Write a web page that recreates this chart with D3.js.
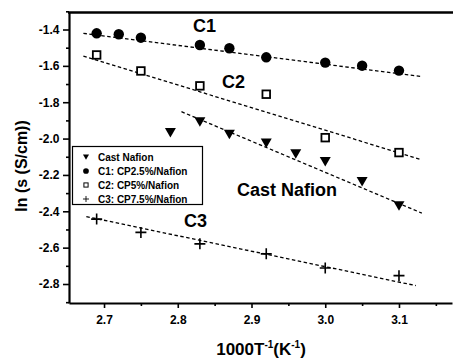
<!DOCTYPE html>
<html><head><meta charset="utf-8">
<script src="https://cdn.jsdelivr.net/npm/d3@7"></script>
<style>body{margin:0;background:#fff}svg{display:block}text{font-family:"Liberation Sans",Arial,sans-serif;font-weight:bold}</style>
</head><body><svg id="c" width="453" height="358"></svg>
<script>
// Data
const castX = [2.79, 2.83, 2.87, 2.92, 2.96, 3.00, 3.05, 3.10];
const castY = [-1.967, -1.907, -1.976, -2.025, -2.084, -2.126, -2.236, -2.370];
const c1X = [2.69, 2.72, 2.75, 2.83, 2.87, 2.92, 3.00, 3.05, 3.10];
const c1Y = [-1.421, -1.426, -1.445, -1.485, -1.503, -1.553, -1.582, -1.599, -1.626];
const c2X = [2.69, 2.75, 2.83, 2.92, 3.00, 3.10];
const c2Y = [-1.540, -1.628, -1.710, -1.756, -1.995, -2.077];
const c3X = [2.69, 2.75, 2.83, 2.92, 3.00, 3.10];
const c3Y = [-2.443, -2.516, -2.579, -2.634, -2.712, -2.754];
// Linear fit endpoints [x0, x1], [y0, y1]
const fitC1 = {x: [2.672, 3.131], y: [-1.421, -1.659]};
const fitC2 = {x: [2.672, 3.131], y: [-1.546, -2.117]};
const fitCast = {x: [2.805, 3.131], y: [-1.852, -2.410]};
const fitC3 = {x: [2.676, 3.123], y: [-2.429, -2.809]};
const xTicks = [2.7, 2.8, 2.9, 3.0, 3.1];
const xMinor = [2.75, 2.85, 2.95, 3.05, 3.15];
const yTicks = [-2.8, -2.6, -2.4, -2.2, -2.0, -1.8, -1.6, -1.4];
const yMinor = [-2.9, -2.7, -2.5, -2.3, -2.1, -1.9, -1.7, -1.5, -1.3];
const legendLabels = ["Cast Nafion", "C1: CP2.5%/Nafion", "C2: CP5%/Nafion", "C3: CP7.5%/Nafion"];

const svg = d3.select("#c");
const x = d3.scaleLinear().domain([2.6525, 3.1719]).range([69, 452]);
const y = d3.scaleLinear().domain([-2.9045, -1.3037]).range([303, 12]);
const fmt = v => d3.format(".1f")(v).replace("−", "-");

// top frame
svg.append("line").attr("x1", 68).attr("x2", 453).attr("y1", 12.5).attr("y2", 12.5).attr("stroke", "#000").attr("stroke-width", 2.5);

// axes
const gx = svg.append("g").attr("transform", "translate(0,303)")
  .call(d3.axisBottom(x).tickValues(xTicks).tickFormat(fmt).tickSize(5).tickSizeOuter(0));
svg.append("g").attr("transform", "translate(0,303)")
  .call(d3.axisBottom(x).tickValues(xMinor).tickFormat("").tickSize(3).tickSizeOuter(0))
  .select(".domain").remove();
const gy = svg.append("g").attr("transform", "translate(69,0)")
  .call(d3.axisLeft(y).tickValues(yTicks).tickFormat(fmt).tickSize(6).tickSizeOuter(0));
svg.append("g").attr("transform", "translate(69,0)")
  .call(d3.axisLeft(y).tickValues(yMinor).tickFormat("").tickSize(3).tickSizeOuter(0))
  .select(".domain").remove();
svg.selectAll(".domain").attr("stroke-width", 2.2).attr("stroke", "#000");
svg.selectAll(".tick line").attr("stroke-width", 1.6);
svg.selectAll(".tick text").attr("font-size", 12).attr("font-weight", "bold").attr("font-family", "Liberation Sans, Arial, sans-serif").attr("fill", "#000");
gx.selectAll(".tick text").attr("dy", "1.05em");
gy.selectAll(".tick text").attr("dx", "-0.05em");

// fit lines
const line = d3.line().x(d => x(d[0])).y(d => y(d[1]));
[fitC1, fitC2, fitCast, fitC3].forEach(f => {
  svg.append("path").attr("d", line(d3.zip(f.x, f.y)))
    .attr("fill", "none").attr("stroke", "#000").attr("stroke-width", 1.3).attr("stroke-dasharray", "3.5,2.5");
});

function drawMarker(g, type, cx, cy, scale) {
  const s = scale || 1;
  if (type === "tri") {
    g.append("path").attr("d", `M${cx-5.5*s},${cy-4.5*s}L${cx+5.5*s},${cy-4.5*s}L${cx},${cy+5*s}Z`).attr("fill", "#000");
  } else if (type === "circ") {
    g.append("circle").attr("cx", cx).attr("cy", cy).attr("r", 5.2*s).attr("fill", "#000");
  } else if (type === "sq") {
    g.append("rect").attr("x", cx-3.8*s).attr("y", cy-3.8*s).attr("width", 7.6*s).attr("height", 7.6*s)
      .attr("fill", "#fff").attr("stroke", "#000").attr("stroke-width", 1.8*s);
  } else if (type === "plus") {
    g.append("path").attr("d", `M${cx-5.5*s},${cy}H${cx+5.5*s}M${cx},${cy-5.5*s}V${cy+5.5*s}`)
      .attr("stroke", "#000").attr("stroke-width", 1.6*s).attr("fill", "none");
  }
}
const mg = svg.append("g");
castX.forEach((v, i) => drawMarker(mg, "tri", x(v), y(castY[i])));
c1X.forEach((v, i) => drawMarker(mg, "circ", x(v), y(c1Y[i])));
c2X.forEach((v, i) => drawMarker(mg, "sq", x(v), y(c2Y[i])));
c3X.forEach((v, i) => drawMarker(mg, "plus", x(v), y(c3Y[i])));

// curve labels
const lab = (t, px, py) => svg.append("text").attr("x", px).attr("y", py).attr("font-size", 18).text(t);
lab("C1", 193, 32);
lab("C2", 222, 88);
lab("Cast Nafion", 237, 196);
lab("C3", 184, 227);

// legend
const lg = svg.append("g");
lg.append("rect").attr("x", 72.5).attr("y", 146.5).attr("width", 130).attr("height", 58)
  .attr("fill", "#fff").attr("stroke", "#000").attr("stroke-width", 1.2);
const types = ["tri", "circ", "sq", "plus"];
legendLabels.forEach((t, i) => {
  const cy = 157 + i * 14;
  drawMarker(lg, types[i], 86, cy, 0.55);
  lg.append("text").attr("x", 98).attr("y", cy + 3.5).attr("font-size", 10).text(t);
});

// axis titles
svg.append("text").attr("transform", "translate(27,166) rotate(-90)").attr("text-anchor", "middle")
  .attr("font-size", 16).text("ln (s (S/cm))");
const xt = svg.append("text").attr("x", 261).attr("y", 355).attr("text-anchor", "middle").attr("font-size", 17);
xt.append("tspan").text("1000T");
xt.append("tspan").attr("font-size", 10).attr("dy", -7).text("-1");
xt.append("tspan").attr("dy", 7).text("(K");
xt.append("tspan").attr("font-size", 10).attr("dy", -7).text("-1");
xt.append("tspan").attr("dy", 7).text(")");
</script></body></html>
